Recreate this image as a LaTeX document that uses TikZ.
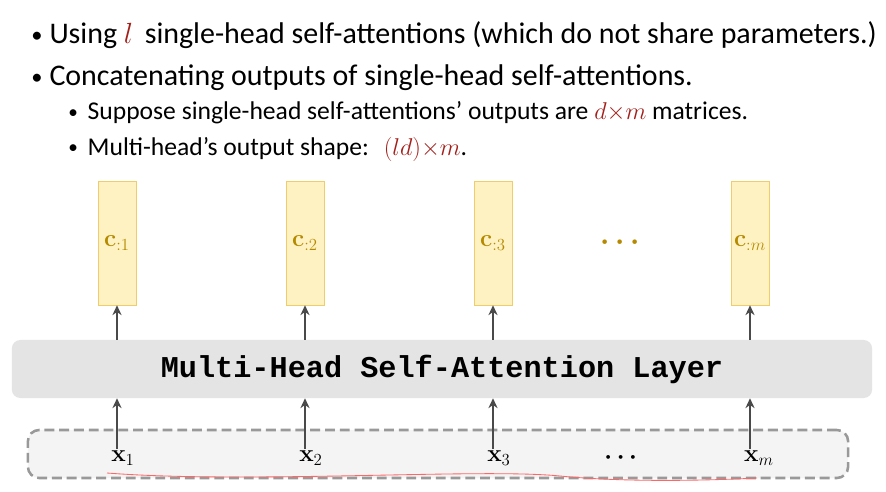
\documentclass[tikz,border=0pt]{standalone}
\usepackage{amsmath}
\usepackage{bm}
\usepackage[no-math]{fontspec}
\setmainfont{Carlito}
\setmonofont{Liberation Mono}
\usetikzlibrary{arrows.meta}
\definecolor{mathred}{HTML}{A3201A}
\definecolor{boxyellow}{HTML}{FFF2C2}
\definecolor{boxline}{HTML}{F0CD6A}
\definecolor{labelgold}{HTML}{B58A00}
\definecolor{layergray}{HTML}{E4E4E4}
\definecolor{inputgray}{HTML}{F4F4F4}
\definecolor{arrowgray}{HTML}{4A4A4A}
\begin{document}
\begin{tikzpicture}[
    x=0.025cm, y=-0.025cm,
    bullet/.style={anchor=base west, inner sep=0pt, font=\fontsize{21.3}{25}\selectfont},
    subbullet/.style={anchor=base west, inner sep=0pt, font=\fontsize{18.2}{22}\selectfont},
    outbox/.style={rectangle, draw=boxline, fill=boxyellow, minimum width=0.95cm, minimum height=3.1cm, inner sep=0pt, text=labelgold, font=\fontsize{18}{21}\selectfont},
    layer/.style={rectangle, rounded corners=6pt, fill=layergray, minimum width=21.5cm, minimum height=1.45cm, align=center},
    inputs/.style={rectangle, rounded corners=8pt, draw=gray!80, dash pattern=on 7pt off 3.5pt, line width=1.8pt, fill=inputgray, minimum width=20.5cm, minimum height=1.2cm},
    xlabel/.style={inner sep=1pt, font=\fontsize{18}{21}\selectfont},
    arrow/.style={->, >={Stealth[length=7pt, width=6.5pt]}, line width=1.6pt, arrowgray}
]
    \useasboundingbox (0,0) rectangle (886,492);
    \fill[white] (0,0) rectangle (886,492);

    % Bullets
    \node[bullet] (line1) at (31,44) {\raisebox{0.1ex}{\scalebox{0.75}{\textbullet}}\hspace{5pt}Using \textcolor{mathred}{$l$}\, single-head self-attentions (which do not share parameters.)};
    \node[bullet] (line2) at (31,86) {\raisebox{0.1ex}{\scalebox{0.75}{\textbullet}}\hspace{5pt}Concatenating outputs of single-head self-attentions.};
    \node[subbullet] (line3) at (68,120) {\raisebox{0.1ex}{\scalebox{0.75}{\textbullet}}\hspace{7pt}Suppose single-head self-attentions' outputs are \textcolor{mathred}{$d{\times}m$} matrices.};
    \node[subbullet] (line4) at (68,155) {\raisebox{0.1ex}{\scalebox{0.75}{\textbullet}}\hspace{7pt}Multi-head’s output shape:\; \textcolor{mathred}{$(ld){\times}m$}.};

    % Inputs
    \node[inputs] (input) at (438,454) {};
    \node[xlabel] (x1) at (123,458) {$\mathbf{x}_1$};
    \node[xlabel] (x2) at (311,458) {$\mathbf{x}_2$};
    \node[xlabel] (x3) at (499,458) {$\mathbf{x}_3$};
    \node[xlabel] (xdots) at (623,458) {$\bm{\cdots}$};
    \node[xlabel] (xm) at (759,458) {$\mathbf{x}_m$};

    % Layer
    \node[layer] (layer) at (442,369) {\fontsize{21.5}{24}\selectfont\ttfamily\bfseries Multi-Head Self-Attention Layer};

    % Outputs
    \node[outbox] (c1) at (117,243) {$\mathbf{c}_{:1}$};
    \node[outbox] (c2) at (305,243) {$\mathbf{c}_{:2}$};
    \node[outbox] (c3) at (493,243) {$\mathbf{c}_{:3}$};
    \node[text=labelgold, font=\fontsize{20}{22}\selectfont] (cdots) at (623,243) {$\bm{\cdots}$};
    \node[outbox] (cm) at (750,243) {$\mathbf{c}_{:m}$};

    % Arrows
    \foreach \i in {1,2,3,m} {
        \draw[arrow] (x\i.north -| c\i) -- (layer.south -| c\i);
        \draw[arrow] (layer.north -| c\i) -- (c\i.south);
    }

    % Hand-drawn mark
    \draw[red!60, line width=0.6pt] (107,473) .. controls (250,484) and (480,468) .. (560,476) .. controls (620,482) and (700,481) .. (757,478);
\end{tikzpicture}
\end{document}
